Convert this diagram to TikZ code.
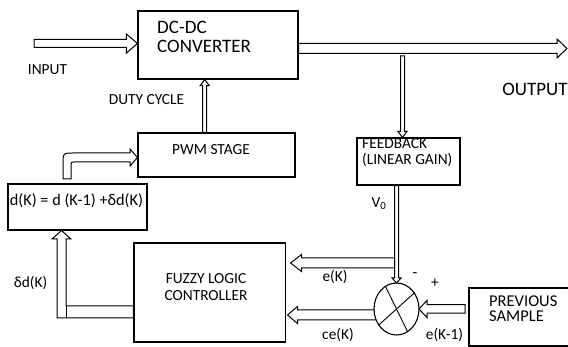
\documentclass[tikz,border=0pt]{standalone}
\usepackage{fontspec}
\setmainfont{Carlito}
\usetikzlibrary{calc,shapes.geometric}
\newcommand\harrow[5]{%
  \coordinate (hT) at (#2);
  \coordinate (hS) at (#1);
  \coordinate (hB) at ($(hT)!#5!(hS)$);
  \filldraw[arr] ($(hS)!#3!90:(hT)$) -- ($(hB)!#3!-90:(hS)$) -- ($(hB)!#4!-90:(hS)$) -- (hT)
     -- ($(hB)!#4!90:(hS)$) -- ($(hB)!#3!90:(hS)$) -- ($(hS)!#3!-90:(hT)$) -- cycle;
}
\begin{document}
\begin{tikzpicture}[x=1pt,y=-1pt,
  box/.style={draw, line width=1.1pt, inner sep=0pt},
  arr/.style={draw, fill=white, line width=1pt, line join=miter},
  txt/.style={font=\fontsize{15.4}{16}\selectfont, inner sep=0pt},
  bigtxt/.style={font=\fontsize{19}{19}\selectfont, inner sep=0pt}]
\useasboundingbox (0,0) rectangle (568,347);

% blocks
\node[box, minimum width=160pt, minimum height=68pt] (conv) at (218,45) {};
\node[box, minimum width=157pt, minimum height=44pt] (pwm) at (216.5,155) {};
\node[box, minimum width=103pt, minimum height=47pt] (fb) at (408.5,161.5) {};
\node[box, minimum width=139pt, minimum height=46pt] (dk) at (77.5,207) {};
\node[box, minimum width=151.5pt, minimum height=99pt] (flc) at (209.75,292.5) {};
\node[box, minimum width=106pt, minimum height=58pt] (ps) at (522,317) {};

% block texts
\node[bigtxt, anchor=west, align=left] (convt) at (157,36.5) {DC-DC\\CONVERTER};
\node[txt] (pwmt) at (211,150) {PWM STAGE};
\node[txt, anchor=west, align=left] (fbt) at (362,153) {FEEDBACK\\(LINEAR GAIN)};
\node[txt, font=\fontsize{16.3}{17}\selectfont] (dkt) at (76.5,200.5) {d(K) = d (K-1) +δd(K)};
\node[txt, font=\fontsize{15.4}{17.5}\selectfont, align=center] (flct) at (206,287) {FUZZY LOGIC\\CONTROLLER};
\node[txt, font=\fontsize{16.5}{15}\selectfont, anchor=west, align=left] (pst) at (489,308.5) {PREVIOUS\\SAMPLE};

% straight hollow arrows
\coordinate (intail) at (34,43.5);
\harrow{intail}{conv.west |- intail}{4pt}{9.5pt}{11pt}
\coordinate (outtip) at (567,48.5);
\harrow{conv.east |- outtip}{outtip}{5pt}{9.5pt}{10pt}
\coordinate (fbtop) at (402.5,56);
\harrow{fbtop}{fbtop |- fb.north}{2pt}{4.5pt}{6pt}
\coordinate (dutyx) at (204.7,0);
\harrow{pwm.north -| dutyx}{conv.south -| dutyx}{2pt}{4.5pt}{6pt}

% summing junction position
\coordinate (sumc) at (396.5,309);
\harrow{fb.south -| sumc}{$(sumc)+(0,-26)$}{2pt}{4.5pt}{5pt}
\coordinate (ektail) at (394.5,263);
\harrow{ektail}{$(flc.east |- ektail)+(4.5,0)$}{5pt}{8.5pt}{11pt}
\coordinate (cetail) at (377,315);
\harrow{cetail}{$(flc.east |- cetail)+(1.5,0)$}{5pt}{8.5pt}{10pt}
\coordinate (pstail) at (465,309);
\harrow{pstail}{$(sumc)+(22.5,0)$}{4.25pt}{8.5pt}{8pt}

% summing junction
\node[draw, fill=white, line width=1.1pt, ellipse, minimum width=45pt, minimum height=52pt, inner sep=0pt] (sum) at (sumc) {};
\draw[line width=0.9pt] (sum.116) -- (sum.-64);
\draw[line width=0.9pt] (sum.42) -- (sum.222);

% L-shaped arrow FLC -> d(K)
\filldraw[arr] (flc.west |- 0,306) -- (66,306) -- (66,239) -- (71,239) -- (61.5,0 |- dk.south)
  -- (52,239) -- (57,239) -- (57,318) -- (flc.west |- 0,318) -- cycle;
\draw[line width=1pt] (66,306) -- (66,318);

% bent arrow d(K) -> PWM
\filldraw[arr] (63,179) -- (63,163) .. controls (63,153) .. (73,153) -- (130,153) -- (130,149)
  -- (pwm.west |- 0,157.5) -- (130,166) -- (130,162) -- (74,162) .. controls (71,162) .. (71,165)
  -- (71,179) -- cycle;

% labels
\node[txt] (lin) at (47.5,69.5) {INPUT};
\node[txt] (lduty) at (146.5,99.5) {DUTY CYCLE};
\node[bigtxt] (lout) at (535,89) {OUTPUT};
\node[txt] (lv0) at (379,204) {V\textsubscript{0}};
\node[txt] (lek) at (335,277) {e(K)};
\node[txt] (lcek) at (338,335) {ce(K)};
\node[txt] (lek1) at (444.5,335) {e(K-1)};
\node[txt] (ldd) at (30.5,283) {δd(K)};
\node[txt] (lminus) at (415,275) {-};
\node[txt] (lplus) at (435,283) {+};
\end{tikzpicture}
\end{document}
